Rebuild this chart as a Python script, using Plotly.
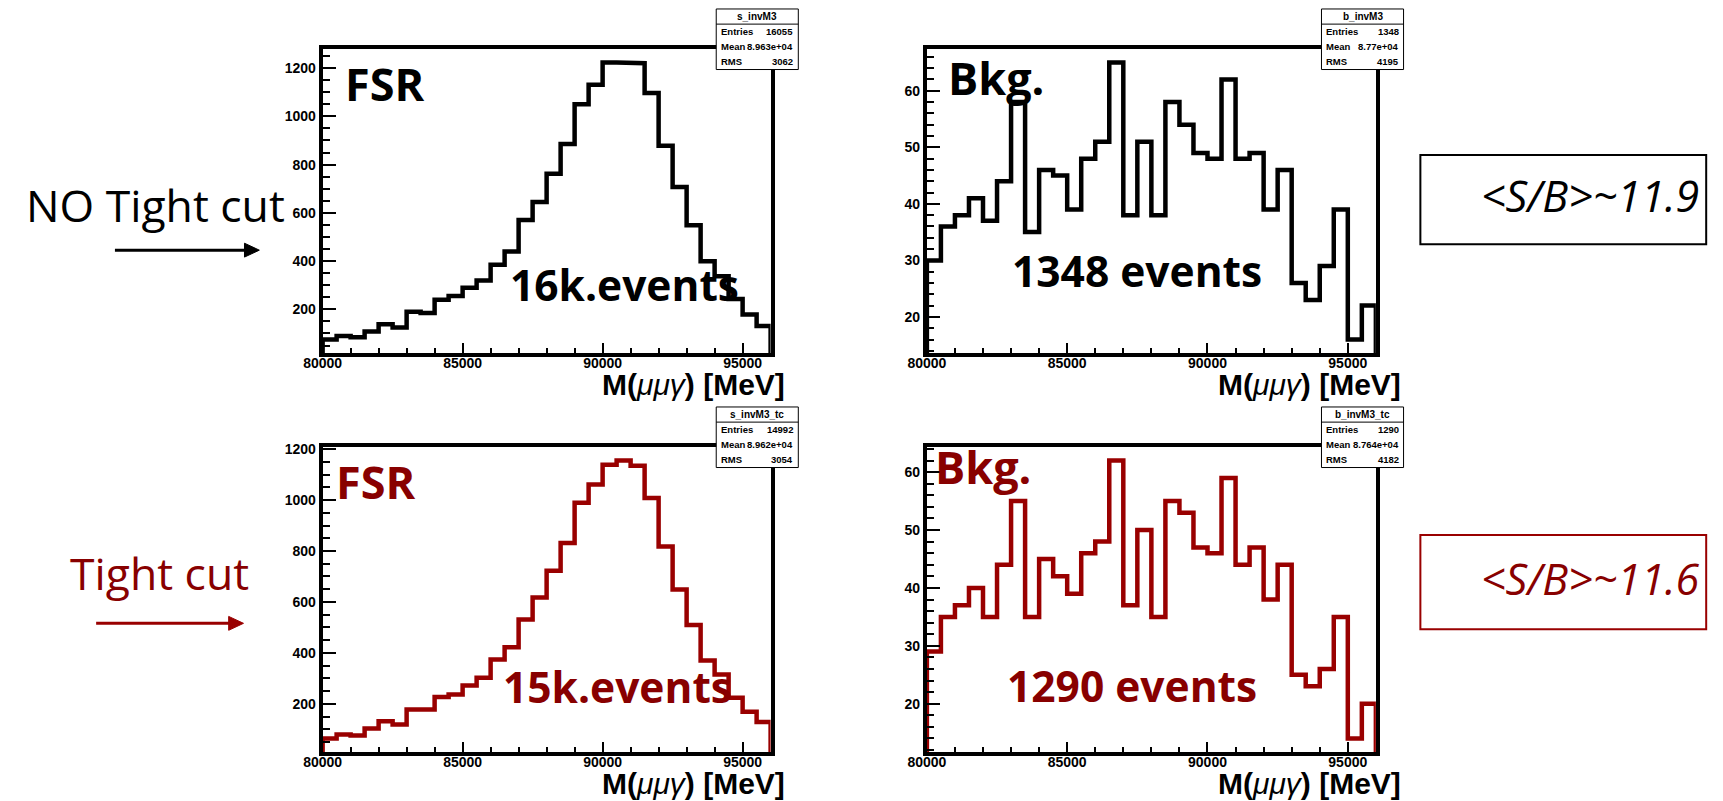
import plotly.graph_objects as go

W, H = 1723, 801

# Binning of the invariant-mass histograms (MeV)
mass_lo, mass_hi, bin_width = 80000, 96000, 500

# Bin contents, 32 bins of 500 MeV from 80000 to 96000
fsr_no_tight = [75, 90, 84, 108, 138, 125, 190, 185, 240, 255, 290, 320, 385, 440, 570, 645,
                762, 885, 1050, 1131, 1223, 1223, 1220, 1097, 878, 707, 549, 399, 337, 243, 179, 131]
bkg_no_tight = [30, 36, 38, 41, 37, 44, 58, 35, 46, 45, 39, 48, 51, 65, 38, 51,
                38, 58, 54, 49, 48, 62, 48, 49, 39, 46, 26, 23, 29, 39, 16, 22]
fsr_tight = [64, 80, 76, 103, 132, 119, 178, 178, 227, 237, 272, 302, 374, 422, 531, 617,
             722, 831, 989, 1061, 1139, 1155, 1135, 1008, 818, 649, 509, 370, 315, 224, 169, 129]
bkg_tight = [29, 35, 37, 40, 35, 44, 55, 35, 45, 42, 39, 46, 48, 62, 37, 50,
             35, 55, 53, 47, 46, 59, 44, 47, 38, 44, 25, 23, 26, 35, 14, 20]

x_tick_vals = [80000, 85000, 90000, 95000]
fsr_tick_vals = [200, 400, 600, 800, 1000, 1200]
bkg_tick_vals = [20, 30, 40, 50, 60]

# Statistics boxes: name, entries, mean, rms
stats = {
    "fsr_no_tight": ("s_invM3", "16055", "8.963e+04", "3062"),
    "bkg_no_tight": ("b_invM3", "1348", "8.77e+04", "4195"),
    "fsr_tight": ("s_invM3_tc", "14992", "8.962e+04", "3054"),
    "bkg_tight": ("b_invM3_tc", "1290", "8.764e+04", "4182"),
}

labels = {
    "fsr_no_tight": ("FSR", "16k.events"),
    "bkg_no_tight": ("Bkg.", "1348 events"),
    "fsr_tight": ("FSR", "15k.events"),
    "bkg_tight": ("Bkg.", "1290 events"),
}
ratio_no_tight = "11.9"
ratio_tight = "11.6"

BLACK = "#000000"
RED = "#990000"
RED_TEXT = "#880000"


def px(x):
    return x / W


def py(y):
    return 1 - y / H


def step_path(values, base):
    """Outline of a ROOT-style histogram, starting and ending at the base."""
    xs, ys = [mass_lo], [base]
    for i, v in enumerate(values):
        lo = mass_lo + i * bin_width
        hi = lo + bin_width
        xs += [lo, hi]
        ys += [v, v]
    xs.append(mass_hi)
    ys.append(base)
    return xs, ys


def y_range(values):
    lo, hi = min(values), max(values)
    margin = 0.05 * (hi - lo)
    return [lo - margin, hi + margin]


def text(txt, x, y, size, color, anchor="center", family="Open Sans", weight="normal"):
    return dict(text=txt, xref="paper", yref="paper", x=px(x), y=py(y),
                xanchor=anchor, yanchor="middle", align=anchor, showarrow=False,
                font=dict(family=family, size=size, color=color, weight=weight))


# Panel frames in pixels: (left, top, right, bottom)
panels = [
    ("fsr_no_tight", fsr_no_tight, BLACK, (307, 43, 760, 350), fsr_tick_vals, 50),
    ("bkg_no_tight", bkg_no_tight, BLACK, (918, 43, 1372, 350), bkg_tick_vals, 2),
    ("fsr_tight", fsr_tight, RED, (307, 444, 760, 752), fsr_tick_vals, 50),
    ("bkg_tight", bkg_tight, RED, (918, 444, 1372, 752), bkg_tick_vals, 2),
]

fig = go.Figure()
layout = dict(
    width=W, height=H, margin=dict(l=0, r=0, t=0, b=0),
    paper_bgcolor="white", plot_bgcolor="white", showlegend=False,
)
shapes, annotations = [], []
tick_font = dict(family="Liberation Sans", size=14, color=BLACK, weight="bold")

for i, (key, values, color, (l, t, r, b), yticks, yminor) in enumerate(panels):
    n = "" if i == 0 else str(i + 1)
    yr = y_range(values)
    xs, ys = step_path(values, yr[0])
    fig.add_trace(go.Scatter(x=xs, y=ys, mode="lines", xaxis="x" + n, yaxis="y" + n,
                             line=dict(color=color, width=4.5), hoverinfo="skip"))
    layout["xaxis" + n] = dict(
        domain=[px(l), px(r)], anchor="y" + n, range=[mass_lo, mass_hi],
        tickvals=x_tick_vals, ticktext=[str(v) for v in x_tick_vals],
        ticks="inside", ticklen=10, tickwidth=1.5, tickcolor=BLACK,
        minor=dict(dtick=1000, ticks="inside", ticklen=5, tickwidth=1.5, tickcolor=BLACK),
        showline=True, linewidth=4, linecolor=BLACK, mirror=True,
        showgrid=False, zeroline=False, tickfont=tick_font, fixedrange=True,
        ticklabelstandoff=-6,
    )
    layout["yaxis" + n] = dict(
        domain=[py(b), py(t)], anchor="x" + n, range=yr,
        tickvals=yticks, ticktext=[str(v) for v in yticks],
        ticks="inside", ticklen=13, tickwidth=1.5, tickcolor=BLACK,
        minor=dict(dtick=yminor, ticks="inside", ticklen=7, tickwidth=1.5, tickcolor=BLACK),
        showline=True, linewidth=4, linecolor=BLACK, mirror=True,
        showgrid=False, zeroline=False, tickfont=tick_font, fixedrange=True,
    )

    # Axis title
    annotations.append(text("<b>M(</b><i>μμγ</i><b>) [MeV]</b>", r - 78 if l < 500 else r - 67,
                            b + 31, 30, BLACK, family="Liberation Sans"))

    # Statistics box sticking out of the frame corner
    name, entries, mean, rms = stats[key]
    bl, bt, br, bb = r - 55, t - 40, r + 28, t + 21
    row = (bb - bt) / 4
    shapes.append(dict(type="rect", xref="paper", yref="paper", x0=px(bl), x1=px(br),
                       y0=py(bb), y1=py(bt), line=dict(color=BLACK, width=1),
                       fillcolor="white", layer="above"))
    shapes.append(dict(type="line", xref="paper", yref="paper", x0=px(bl), x1=px(br),
                       y0=py(bt + row), y1=py(bt + row), line=dict(color=BLACK, width=1),
                       layer="above"))
    sf = dict(family="Liberation Sans", weight="bold")
    annotations.append(text(name, (bl + br) / 2, bt + row / 2, 10, BLACK, **sf))
    for k, (lab, val) in enumerate([("Entries", entries), ("Mean", mean), ("RMS", rms)]):
        yy = bt + row * (k + 1.5)
        annotations.append(text(lab, bl + 3, yy, 9.5, BLACK, anchor="left", **sf))
        annotations.append(text(val, br - 3, yy, 9.5, BLACK, anchor="right", **sf))

# Large in-panel labels, placed by their centres
big_label_pos = {
    "fsr_no_tight": ((370, 78), (612, 281)),
    "bkg_no_tight": ((988, 72), (1130, 266)),
    "fsr_tight": ((360, 479), (605, 686)),
    "bkg_tight": ((975, 464), (1125, 685)),
}
for key, values, color, frame, _, _ in panels:
    tcolor = BLACK if color == BLACK else RED_TEXT
    (x1, y1), (x2, y2) = big_label_pos[key]
    head, count = labels[key]
    annotations.append(text(head, x1, y1, 45, tcolor, weight="bold"))
    annotations.append(text(count, x2, y2, 42.5, tcolor, weight="bold"))

# Row captions with arrows
annotations.append(text("NO Tight cut", 138, 200, 44.5, BLACK))
annotations.append(text("Tight cut", 142, 571, 44.5, RED_TEXT))


def arrow(x0, x1, y, color):
    shapes.append(dict(type="line", xref="paper", yref="paper", x0=px(x0), x1=px(x1 - 14),
                       y0=py(y), y1=py(y), line=dict(color=color, width=3)))
    path = "M {} {} L {} {} L {} {} Z".format(px(x1 - 15), py(y - 7), px(x1), py(y),
                                              px(x1 - 15), py(y + 7))
    shapes.append(dict(type="path", xref="paper", yref="paper", path=path,
                       fillcolor=color, line=dict(color=color, width=1)))


arrow(97, 243, 246, BLACK)
arrow(78, 227, 622, RED)

# Signal-to-background boxes
for (t, b), ratio, color, tcolor in [((150, 240), ratio_no_tight, BLACK, BLACK),
                                     ((533, 628), ratio_tight, RED, RED_TEXT)]:
    shapes.append(dict(type="rect", xref="paper", yref="paper", x0=px(1417), x1=px(1706),
                       y0=py(b), y1=py(t), line=dict(color=color, width=2)))
    annotations.append(text("<i>&lt;S/B&gt;~" + ratio + "</i>", 1589, (t + b) / 2 - 4, 43, tcolor))

layout["shapes"] = shapes
layout["annotations"] = annotations
fig.update_layout(**layout)
fig.write_html("out.html")
